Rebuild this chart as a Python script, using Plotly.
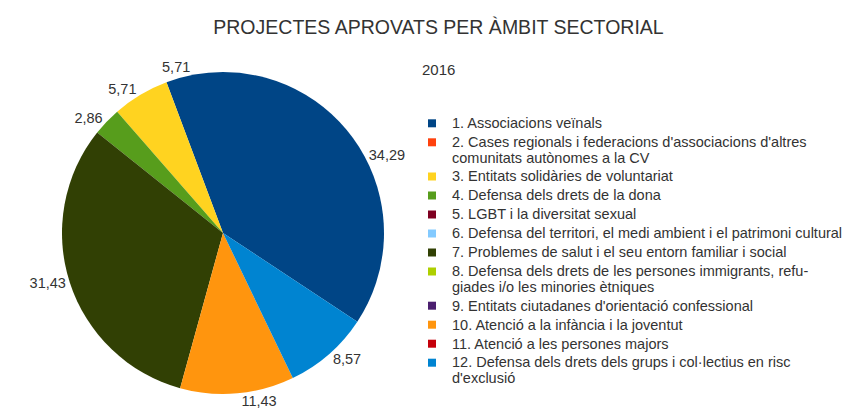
import plotly.graph_objects as go

# legend categories (ambits) in data order
categories = [
    "1. Associacions veïnals",
    "2. Cases regionals i federacions d'associacions d'altres<br>comunitats autònomes a la CV",
    "3. Entitats solidàries de voluntariat",
    "4. Defensa dels drets de la dona",
    "5. LGBT i la diversitat sexual",
    "6. Defensa del territori, el medi ambient i el patrimoni cultural",
    "7. Problemes de salut i el seu entorn familiar i social",
    "8. Defensa dels drets de les persones immigrants, refu-<br>giades i/o les minories ètniques",
    "9. Entitats ciutadanes d'orientació confessional",
    "10. Atenció a la infància i la joventut",
    "11. Atenció a les persones majors",
    "12. Defensa dels drets dels grups i col·lectius en risc<br>d'exclusió",
]
values = [34.29, 0, 5.71, 2.86, 0, 0, 31.43, 0, 0, 11.43, 0, 8.57]
colors = ["#004586", "#ff420e", "#ffd320", "#579d1c", "#7e0021", "#83caff",
          "#314004", "#aecf00", "#4b1f6f", "#ff950e", "#c5000b", "#0084d1"]

# 13th row without a legend entry (palette wraps back to the first colour)
extra_label = "13"
extra_value = 5.71
extra_color = "#004586"

pie_labels = [categories[0], extra_label] + categories[1:]
pie_values = [values[0], extra_value] + values[1:]
pie_colors = [colors[0], extra_color] + colors[1:]
pie_text = [f"{v:.2f}".replace(".", ",") if v > 0 else "" for v in pie_values]

fig = go.Figure()

fig.add_trace(go.Pie(
    labels=pie_labels,
    values=pie_values,
    text=pie_text,
    textinfo="text",
    textposition="outside",
    textfont=dict(family="Liberation Sans", size=14.5, color="#333333"),
    marker=dict(colors=pie_colors, line=dict(width=0)),
    sort=False,
    direction="counterclockwise",
    rotation=0,
    domain=dict(x=[54 / 861, 376 / 861], y=[1 - 386 / 412, 1 - 64 / 412]),
    showlegend=False,
    hoverinfo="label+value",
))

# legend entries (text drawn a bit larger than the legend line height)
for name, c in zip(categories, colors):
    fig.add_trace(go.Scatter(
        x=[None], y=[None], mode="markers",
        name=f'<span style="font-size:14.5px">{name}</span>',
        marker=dict(symbol="square", size=8, color=c),
    ))

fig.update_layout(
    width=861, height=412,
    margin=dict(l=0, r=0, t=0, b=0),
    paper_bgcolor="white", plot_bgcolor="white",
    font=dict(family="Liberation Sans", color="#333333"),
    title=dict(text="PROJECTES APROVATS PER ÀMBIT SECTORIAL",
               x=0.5, xanchor="center", y=1 - 19 / 412, yanchor="middle",
               font=dict(size=19.5, color="#333333")),
    annotations=[dict(text="2016", x=0.5, y=1 - 62 / 412, xref="paper", yref="paper",
                      xanchor="center", yanchor="middle", showarrow=False,
                      font=dict(size=15, color="#333333"))],
    xaxis=dict(visible=False), yaxis=dict(visible=False),
    showlegend=True,
    legend=dict(x=404 / 861, y=1 - 101 / 412, xanchor="left", yanchor="top",
                font=dict(size=12, color="#333333"), valign="top",
                bgcolor="rgba(0,0,0,0)", tracegroupgap=0),
)

fig.write_html("out.html")
